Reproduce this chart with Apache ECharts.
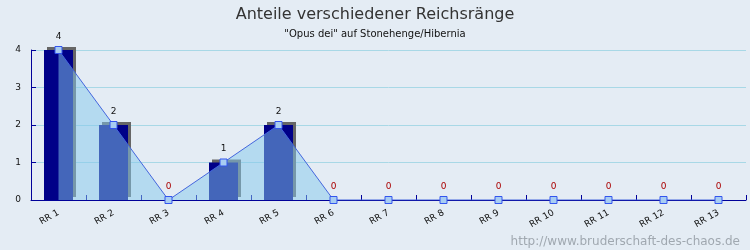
<!DOCTYPE html>
<html><head><meta charset="utf-8">
<script src="https://cdn.jsdelivr.net/npm/echarts@6/dist/echarts.min.js"></script>
<style>html,body{margin:0;padding:0;background:#e4ecf4}#c{width:750px;height:250px}</style>
</head><body><div id="c"></div>
<script>
const categories = ['RR 1','RR 2','RR 3','RR 4','RR 5','RR 6','RR 7','RR 8','RR 9','RR 10','RR 11','RR 12','RR 13'];
const values = [4,2,0,1,2,0,0,0,0,0,0,0,0];
const yTicks = [0,1,2,3,4];
const titleText = 'Anteile verschiedener Reichsränge';
const subtitleText = '"Opus dei" auf Stonehenge/Hibernia';
const footerText = 'http://www.bruderschaft-des-chaos.de';

const chart = echarts.init(document.getElementById('c'), null, {renderer:'canvas'});
chart.setOption({
  backgroundColor:'#e4ecf4',
  animation:false,
  title:[
    {text:titleText, left:'center', top:2, textStyle:{fontFamily:'DejaVu Sans', fontSize:16, fontWeight:'normal', color:'#333'}},
    {text:subtitleText, left:'center', top:24, textStyle:{fontFamily:'DejaVu Sans', fontSize:10, fontWeight:'normal', color:'#111'}},
    {text:footerText, right:5, top:231, textStyle:{fontFamily:'DejaVu Sans', fontSize:12, fontWeight:'normal', color:'#a0a8b0'}}
  ],
  grid:{left:31, right:4, top:50, bottom:50, containLabel:false},
  xAxis:{
    type:'category', data:categories, boundaryGap:true,
    axisLine:{lineStyle:{color:'#000099', width:1}},
    axisTick:{show:true, inside:true, length:5, alignWithLabel:false, lineStyle:{color:'#000099'}},
    axisLabel:{rotate:30, fontFamily:'DejaVu Sans', fontSize:9, color:'#111', margin:12, interval:0},
    splitLine:{show:false}
  },
  yAxis:{
    type:'value', min:yTicks[0], max:yTicks[yTicks.length-1], interval:1,
    axisLine:{show:true, lineStyle:{color:'#000099', width:1}},
    axisTick:{show:true, inside:true, length:5, lineStyle:{color:'#000099'}},
    axisLabel:{fontFamily:'DejaVu Sans', fontSize:9, color:'#111', margin:10},
    splitLine:{show:true, lineStyle:{color:'#a8d8e6', width:1}}
  },
  series:[
    {
      type:'bar', data:values, barWidth:29, z:2,
      itemStyle:{color:'#000088', shadowColor:'#666666', shadowOffsetX:3, shadowOffsetY:-3, shadowBlur:0}
    },
    {
      type:'line', data:values.map(v=>({value:v,label:{color:v===0?'#aa0000':'#111'}})), z:5,
      symbol:'rect', symbolSize:7, showAllSymbol:true,
      itemStyle:{color:'#a8cdf2', borderColor:'#3355ee', borderWidth:1},
      lineStyle:{color:'#4466dd', width:1},
      areaStyle:{color:'rgb(133,200,235)', opacity:0.51},
      label:{show:true, position:'top', distance:5, fontFamily:'DejaVu Sans', fontSize:9},
      emphasis:{disabled:true}
    }
  ]
});
</script></body></html>
